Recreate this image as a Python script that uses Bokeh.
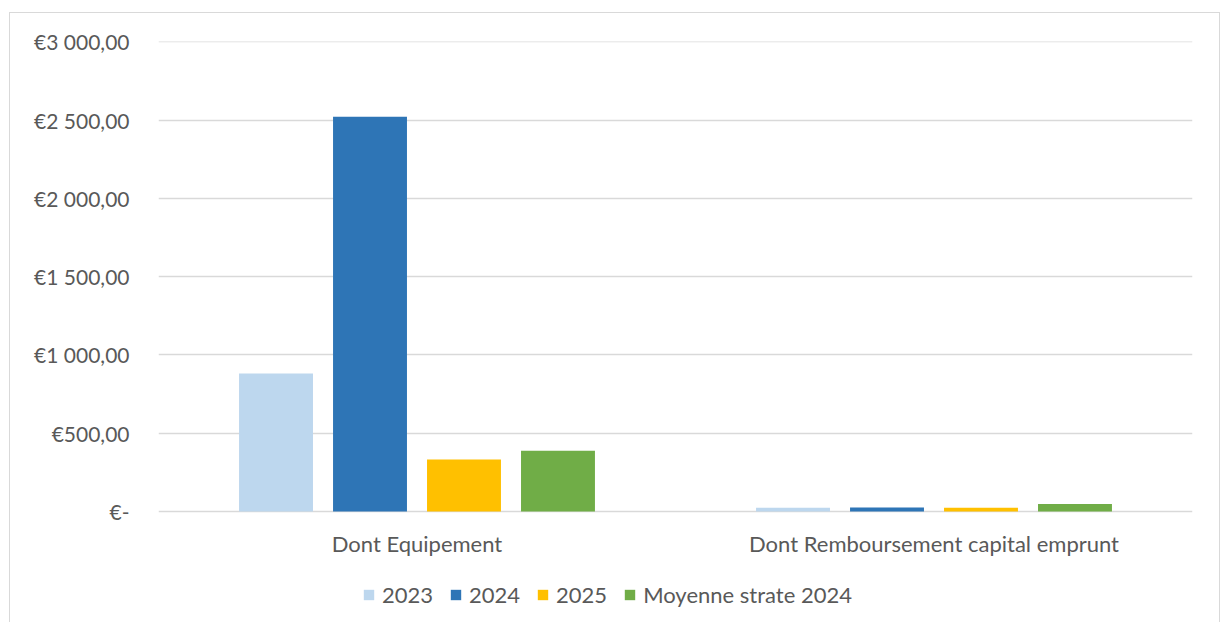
from bokeh.plotting import figure
from bokeh.models import FixedTicker, Legend, LegendItem, Range1d
from bokeh.core.properties import value
from bokeh.embed import file_html
from bokeh.resources import INLINE

categories = ["Dont Equipement", "Dont Remboursement capital emprunt"]
series_names = ["2023", "2024", "2025", "Moyenne strate 2024"]
v2023 = [881, 25]
v2024 = [2521, 26]
v2025 = [332, 25]
vmoy = [389, 48]
y_ticks = [0, 500, 1000, 1500, 2000, 2500, 3000]
y_tick_labels = ["€-", "€500,00", "€1 000,00", "€1 500,00", "€2 000,00", "€2 500,00", "€3 000,00"]

colors = ["#BDD7EE", "#2E75B6", "#FFC000", "#70AD47"]
FONT = "Lato"
TXT = "#595959"
GRID = "#D9D9D9"

# plot area: value axis spans 470 px for 0..3000; the area continues 111 px below 0
PX = 3000 / 470
p = figure(frame_width=1034, frame_height=581, output_backend="svg", toolbar_location=None,
           x_range=Range1d(0, 2), y_range=Range1d(-111 * PX, 3002),
           x_axis_location=None,
           min_border_left=148, min_border_right=27, min_border_top=28, min_border_bottom=0,
           styles={"border": "1px solid #D9D9D9", "border-bottom": "none",
                   "margin-top": "12px", "margin-left": "9px"})
p.outline_line_color = None

centers = [0.5, 1.5]
offsets = [-0.2727, -0.0909, 0.0909, 0.2727]
bw = 0.143
renderers = []
for vals, off, col in zip([v2023, v2024, v2025, vmoy], offsets, colors):
    r = p.vbar(x=[c + off for c in centers], top=vals, width=bw, bottom=0,
               fill_color=col, line_color=None)
    renderers.append(r)

p.xgrid.grid_line_color = None
p.ygrid.grid_line_color = GRID
p.ygrid.grid_line_width = 1.3
p.ygrid.ticker = FixedTicker(ticks=y_ticks)

p.yaxis.ticker = FixedTicker(ticks=y_ticks)
p.yaxis.major_label_overrides = {t: l for t, l in zip(y_ticks, y_tick_labels)}
p.yaxis.axis_line_color = None
p.yaxis.major_tick_line_color = None
p.yaxis.minor_tick_line_color = None
p.yaxis.major_label_text_font = FONT
p.yaxis.major_label_text_font_size = "21px"
p.yaxis.major_label_text_color = TXT
p.yaxis.major_label_standoff = 23

# category labels under the baseline
p.text(x=centers, y=[-32 * PX] * len(centers), text=categories,
       text_font=value(FONT), text_font_size="22px", text_color=TXT,
       text_align="center", text_baseline="middle")

legend = Legend(items=[LegendItem(label=n, renderers=[r]) for n, r in zip(series_names, renderers)],
                orientation="horizontal", location=(204, 14),
                label_text_font=FONT, label_text_font_size="22px", label_text_color=TXT,
                glyph_width=13, glyph_height=13, spacing=16, label_standoff=7,
                border_line_color=None, background_fill_alpha=0, margin=0, padding=0)
p.add_layout(legend)

open("out.html", "w").write(file_html(p, INLINE))
